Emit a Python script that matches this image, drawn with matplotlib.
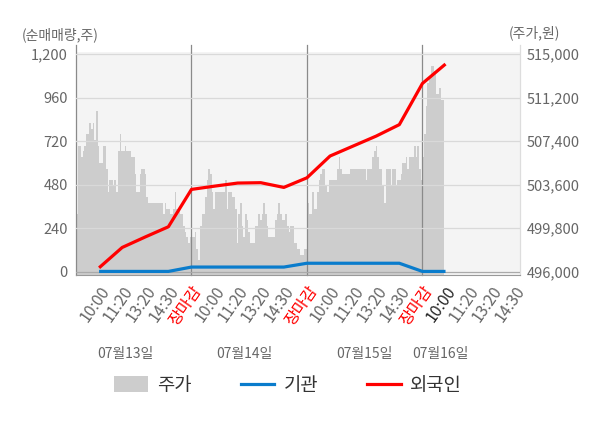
import numpy as np
import matplotlib
matplotlib.use('Agg')
import matplotlib.pyplot as plt
from matplotlib.patches import Patch
from matplotlib.lines import Line2D

plt.rcParams['font.family'] = ['Noto Sans CJK KR', 'DejaVu Sans']

days = ['07월13일', '07월14일', '07월15일', '07월16일']
tick_names = ['10:00', '11:20', '13:20', '14:30', '장마감']

# 주가 (원) - equal width steps within each day
price_d1 = [501000, 507000, 507000, 506000, 506500, 507000, 508000, 508000, 509000, 508500,
            509000, 507500, 510000, 507000, 505500, 505500, 507000, 507000, 505000, 503000,
            504000, 504000, 503500, 504000, 503000, 506500, 508000, 506500, 506500, 507000,
            506500, 506500, 506500, 506000, 506000, 504500, 503000, 503000, 504500, 505000,
            505000, 504500, 502500, 502000, 502000, 502000, 502000, 502000, 502000, 502000,
            502000, 502000, 501000, 502000, 501500, 501500, 501000, 501000, 501500, 503000,
            501500, 501500, 501000, 501000, 500000, 499500, 499000, 498500, 499000]
price_d2 = [499000, 499000, 499500, 498000, 497000, 500000, 501000, 501000, 502500, 504000,
            505000, 504500, 503000, 501500, 503000, 503000, 503000, 503000, 503000, 503000,
            504000, 501500, 503000, 503000, 502500, 502500, 501500, 498500, 501000, 502000,
            500000, 499000, 501000, 500500, 499500, 498500, 498500, 498500, 500000, 500000,
            501000, 500500, 501000, 502000, 501000, 500000, 499000, 499000, 499000, 499000,
            500500, 501000, 502000, 501000, 500500, 500500, 501000, 500000, 499500, 500000,
            500000, 498500, 498500, 498000, 498000, 497500, 497500, 498000, 498000]
price_d3 = [502000, 501000, 501000, 503000, 501500, 501500, 503000, 504000, 504500, 505000,
            505000, 503500, 503000, 504000, 504000, 504000, 504000, 504000, 505000, 506000,
            505000, 504500, 504500, 504500, 504500, 504500, 505000, 505000, 505000, 505000,
            505000, 505000, 505000, 505000, 505000, 504000, 505000, 505000, 505000, 506000,
            506500, 507000, 506000, 505000, 505000, 503500, 502000, 505000, 505000, 505000,
            503500, 505000, 505000, 503500, 504000, 504000, 504500, 505500, 505500, 506000,
            505000, 506000, 506000, 506000, 507000, 506000, 507000, 505000, 504000]
price_d4 = [506000, 508000, 510500, 512500, 513000, 514000, 514000, 513500, 511500, 511500,
            512000, 511000, 511000]

# 순매매량 (주) at each time tick
inst_d1 = [2, 2, 2, 2, 26]
inst_d2 = [26, 26, 26, 26, 47]
inst_d3 = [47, 47, 47, 47, 2]
inst_d4 = [2]
frgn_d1 = [22, 134, 192, 248, 454]
frgn_d2 = [472, 489, 491, 465, 518]
frgn_d3 = [638, 693, 748, 811, 1038]
frgn_d4 = [1145]

net_ticks = [0, 240, 480, 720, 960, 1200]
price_ticks = [496000, 499800, 503600, 507400, 511200, 515000]

GREY = '#cdcdcd'
BLUE = '#0a7ccc'
RED = '#ff0000'
TXT = '#666666'

bars_per_day = 69
price_days = [price_d1, price_d2, price_d3, price_d4]
values = np.concatenate(price_days)
edges = []
for d, vals in enumerate(price_days):
    edges += [d + i / bars_per_day for i in range(len(vals))]
edges.append(3 + len(price_d4) / bars_per_day)
edges = np.array(edges)

def tick_x(day_lists):
    xs, ys = [], []
    for d, vals in enumerate(day_lists):
        for k, v in enumerate(vals):
            xs.append(d + (k + 1) / 5)
            ys.append(v)
    return xs, ys

inst_x, inst_y = tick_x([inst_d1, inst_d2, inst_d3, inst_d4])
frgn_x, frgn_y = tick_x([frgn_d1, frgn_d2, frgn_d3, frgn_d4])

net_lim = (-15, 1213)
p_per = 19000 / 1200
price_lim = (496000 + net_lim[0] * p_per, 496000 + net_lim[1] * p_per)
xmax = 3.845

fig = plt.figure(figsize=(6, 4.28), dpi=100)
ax = fig.add_axes([76 / 600, 1 - 274.5 / 428, 444 / 600, (274.5 - 51.7) / 428])
ax2 = ax.twinx()
ax.yaxis.tick_right()
ax2.yaxis.tick_left()

ax.set_facecolor('#f4f4f4')
ax.stairs(values, edges, baseline=price_lim[0], fill=True, color=GREY, lw=0, zorder=1)
ax.set_xlim(0, xmax)
ax.set_ylim(*price_lim)
ax.set_yticks(price_ticks, [f'{p:,}' for p in price_ticks])
ax2.set_ylim(*net_lim)
ax2.set_yticks(net_ticks, [f'{v:,}' for v in net_ticks])

for a in (ax, ax2):
    for s in a.spines.values():
        s.set_visible(False)
    a.tick_params(axis='y', length=0, labelsize=10.5, labelcolor=TXT)
ax.tick_params(axis='y', pad=5)
ax2.tick_params(axis='y', pad=6)
ax.spines['bottom'].set_visible(True)
ax.spines['bottom'].set_color('#999999')

# day separators / left and right borders
ext = 1 + 7 / 222.8
for x in [0, 1, 2, 3]:
    ax.axvline(x, ymin=0, ymax=ext, color='#8a8a8a', lw=0.9, clip_on=False, zorder=2)
ax.axvline(xmax, ymin=0, ymax=ext, color='#dddddd', lw=0.9, clip_on=False, zorder=2)

for v in net_ticks:
    ax2.axhline(v, color='#aaaaaa' if v == 0 else '#d9d9d9', lw=0.9, zorder=1)

ax2.plot(inst_x, inst_y, color=BLUE, lw=2.3, zorder=3, solid_capstyle='butt')
ax2.plot(frgn_x, frgn_y, color=RED, lw=2.3, zorder=4, solid_capstyle='butt')

# x ticks
xt, xl, xc = [], [], []
for d in range(4):
    for k, name in enumerate(tick_names):
        if d == 3 and k == 4:
            break
        xt.append(d + (k + 1) / 5)
        xl.append(name)
        if name == '장마감':
            xc.append(RED)
        elif d == 3 and k == 0:
            xc.append('#222222')
        else:
            xc.append(TXT)
ax.set_xticks(xt, xl, rotation=55, ha='right', va='top', rotation_mode='anchor')
ax.tick_params(axis='x', length=0, labelsize=11.5, pad=6)
for lab, c in zip(ax.get_xticklabels(), xc):
    lab.set_color(c)

day_x = [0.43, 1.46, 2.5, 3.16]
for x, name in zip(day_x, days):
    ax.text(x, -(354 - 274.5) / 222.8, name, transform=ax.get_xaxis_transform(),
            ha='center', va='center', fontsize=10, color=TXT)

fig.text(22 / 600, 1 - 35 / 428, '(순매매량,주)', ha='left', va='center', fontsize=10, color=TXT)
fig.text(509 / 600, 1 - 33 / 428, '(주가,원)', ha='left', va='center', fontsize=10, color=TXT)

handles = [Patch(facecolor=GREY, edgecolor='none'),
           Line2D([], [], color=BLUE, lw=2.3),
           Line2D([], [], color=RED, lw=2.3)]
fig.legend(handles, ['주가', '기관', '외국인'], loc='center', bbox_to_anchor=(0.48, 0.1),
           ncol=3, frameon=False, fontsize=13.5, handlelength=1.8, handleheight=0.9,
           handletextpad=0.5, columnspacing=2.6, labelcolor='#333333')

fig.savefig('out.png', dpi=100)
